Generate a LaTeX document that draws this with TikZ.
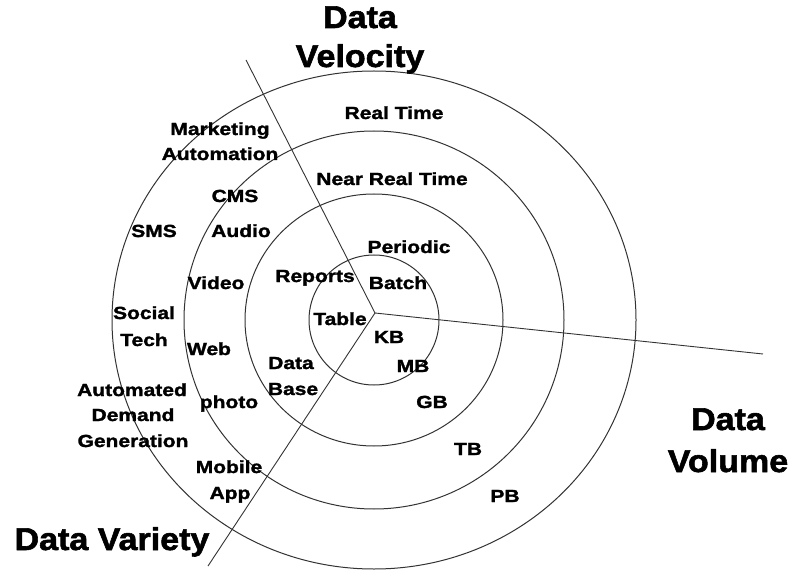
\documentclass[tikz,border=0pt]{standalone}
\usepackage{fontspec}
\newfontfamily\lblfont[FakeStretch=1.2,FakeBold=1.6]{Liberation Sans}
\newfontfamily\ttlfont[FakeStretch=1.08,FakeBold=1.8]{Liberation Sans}
\begin{document}
\begin{tikzpicture}[x=1pt,y=-1pt,
  ring/.style={draw=black!80,line width=1pt},
  axis/.style={draw=black!80,line width=0.9pt},
  lbl/.style={inner sep=0pt,anchor=base,font=\lblfont\bfseries\fontsize{17.5}{20}\selectfont},
  ttl/.style={inner sep=0pt,anchor=base,font=\ttlfont\bfseries\fontsize{31.5}{36}\selectfont}]
\useasboundingbox (0,0) rectangle (790,572);
\coordinate (c) at (374,320);
\draw[ring] (c) ellipse [x radius=65, y radius=65];
\draw[ring] (c) ellipse [x radius=129, y radius=126];
\draw[ring] (c) ellipse [x radius=190, y radius=189];
\draw[ring] (c) ellipse [x radius=262, y radius=249];
\coordinate (o) at (375,313);
\coordinate (vel) at (246,60);
\coordinate (vol) at (763,354);
\coordinate (var) at (208,566);
\draw[axis] (vel) -- (o);
\draw[axis] (o) -- (vol);
\draw[axis] (o) -- (var);
% titles
\node[ttl] (t1) at (360,28) {Data};
\node[ttl] (t2) at (360,67) {Velocity};
\node[ttl] (t3) at (112,550) {Data Variety};
\node[ttl] (t4) at (728,430) {Data};
\node[ttl] (t5) at (728,472) {Volume};
% labels
\node[lbl] (rt) at (394,119) {Real Time};
\node[lbl] (nrt) at (392,185) {Near Real Time};
\node[lbl] (per) at (409,253) {Periodic};
\node[lbl] (bat) at (398,289) {Batch};
\node[lbl] (rep) at (315,282) {Reports};
\node[lbl] (tab) at (340,325) {Table};
\node[lbl] (kb) at (389,343) {KB};
\node[lbl] (mb) at (413,372) {MB};
\node[lbl] (gb) at (432,408) {GB};
\node[lbl] (tb) at (468,455) {TB};
\node[lbl] (pb) at (505,502) {PB};
\node[lbl] (mk) at (220,135) {Marketing};
\node[lbl] (au) at (220,160) {Automation};
\node[lbl] (cms) at (235,202) {CMS};
\node[lbl] (aud) at (241,237) {Audio};
\node[lbl] (sms) at (154,237) {SMS};
\node[lbl] (vid) at (216,289) {Video};
\node[lbl] (soc) at (144,319) {Social};
\node[lbl] (tec) at (144,346) {Tech};
\node[lbl] (web) at (209,355) {Web};
\node[lbl] (dat) at (291,369) {Data};
\node[lbl] (bas) at (293,395) {Base};
\node[lbl] (aut) at (132,396) {Automated};
\node[lbl] (dem) at (133,421) {Demand};
\node[lbl] (gen) at (133,447) {Generation};
\node[lbl] (pho) at (229,408) {photo};
\node[lbl] (mob) at (229,473) {Mobile};
\node[lbl] (app) at (230,499) {App};
\end{tikzpicture}
\end{document}
